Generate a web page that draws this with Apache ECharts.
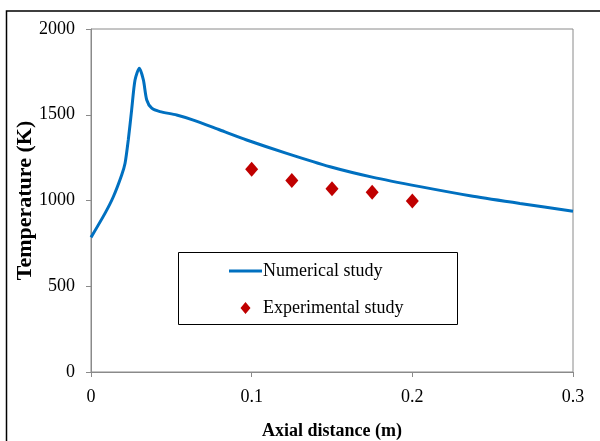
<!DOCTYPE html>
<html><head><meta charset="utf-8">
<script src="https://cdn.jsdelivr.net/npm/echarts@6/dist/echarts.min.js"></script>
<style>html,body{margin:0;padding:0;background:#fff}#c{width:600px;height:441px}</style>
</head><body><div id="c"></div>
<script>
const numX = [0, 0.0087, 0.0139, 0.0191, 0.0212, 0.0232, 0.0253, 0.0274, 0.0301, 0.0326, 0.0347, 0.0378, 0.0429, 0.0533, 0.0637, 0.0803, 0.0969, 0.1218, 0.1488, 0.1757, 0.2048, 0.2359, 0.2670, 0.3];
const numT = [785, 925, 1022, 1149, 1217, 1353, 1528, 1703, 1771, 1703, 1586, 1538, 1518, 1499, 1469, 1411, 1353, 1275, 1197, 1135, 1081, 1028, 983, 937];
const expX = [0.1, 0.125, 0.15, 0.175, 0.2];
const expT = [1182, 1116, 1069, 1048, 997];
const yTickLabels = ['0', '500', '1000', '1500', '2000'];
const xTickLabels = ['0', '0.1', '0.2', '0.3'];

const font = 'Liberation Serif';
const lineIcon = 'path://M0,0L0.01,0L0,0.01Z M33,12L32.99,12L33,11.99Z M0,4.5L33,4.5L33,7.5L0,7.5Z';
const diamondIcon = 'path://M0,0L0.01,0L0,0.01Z M33,12L32.99,12L33,11.99Z M16.5,0L21.5,6L16.5,12L11.5,6Z';
const chart = echarts.init(document.getElementById('c'));
chart.setOption({
  animation: false,
  backgroundColor: '#fff',
  textStyle: { fontFamily: font },
  graphic: [
    { type: 'rect', shape: { x: 6.5, y: 11, width: 700, height: 500 }, style: { fill: 'none', stroke: '#000', lineWidth: 1.5 }, z: 100 },
    { type: 'rect', shape: { x: 178.5, y: 252.5, width: 279, height: 72 }, style: { fill: '#fff', stroke: '#000', lineWidth: 1 }, z: 5 }
  ],
  grid: { left: 91, right: 27, top: 29, bottom: 69, show: true, borderColor: '#8a8a8a', borderWidth: 1,
    outerBoundsMode: 'none', containLabel: false },
  legend: {
    orient: 'vertical', left: 229, top: 262, padding: 0,
    itemWidth: 33, itemHeight: 12, itemGap: 19, z: 10,
    textStyle: { fontFamily: font, fontSize: 18, color: '#000', padding: [0, 0, 0, -4] },
    data: [{ name: 'Numerical study', icon: lineIcon }, { name: 'Experimental study', icon: diamondIcon }]
  },
  xAxis: {
    type: 'value', min: 0, max: 0.3, interval: 0.1,
    name: 'Axial distance (m)', nameLocation: 'middle', nameGap: 50, nameMoveOverlap: false,
    nameTextStyle: { fontFamily: font, fontSize: 18, fontWeight: 'bold', color: '#000' },
    axisLine: { lineStyle: { color: '#8a8a8a' } },
    axisTick: { show: true, length: 5, lineStyle: { color: '#8a8a8a' } },
    axisLabel: { fontFamily: font, fontSize: 18, color: '#000', margin: 16,
      formatter: v => xTickLabels[Math.round(v * 10)] },
    splitLine: { show: false }
  },
  yAxis: {
    type: 'value', min: 0, max: 2000, interval: 500,
    name: 'Temperature (K)', nameLocation: 'middle', nameGap: 55, nameMoveOverlap: false,
    nameTextStyle: { fontFamily: font, fontSize: 22, fontWeight: 'bold', color: '#000' },
    axisLine: { show: true, lineStyle: { color: '#8a8a8a' } },
    axisTick: { show: true, length: 5, lineStyle: { color: '#8a8a8a' } },
    axisLabel: { fontFamily: font, fontSize: 18, color: '#000', margin: 16,
      formatter: v => yTickLabels[Math.round(v / 500)] },
    splitLine: { show: false }
  },
  series: [
    { name: 'Numerical study', type: 'line', smooth: 0.25, symbol: 'none', showSymbol: false,
      data: numX.map((x, i) => [x, numT[i]]),
      lineStyle: { color: '#0070C0', width: 3 }, itemStyle: { color: '#0070C0' }, z: 3 },
    { name: 'Experimental study', type: 'scatter', symbol: 'diamond', symbolSize: [13, 15],
      data: expX.map((x, i) => [x, expT[i]]),
      itemStyle: { color: '#C00000', opacity: 1 }, z: 4 }
  ]
});
</script></body></html>
